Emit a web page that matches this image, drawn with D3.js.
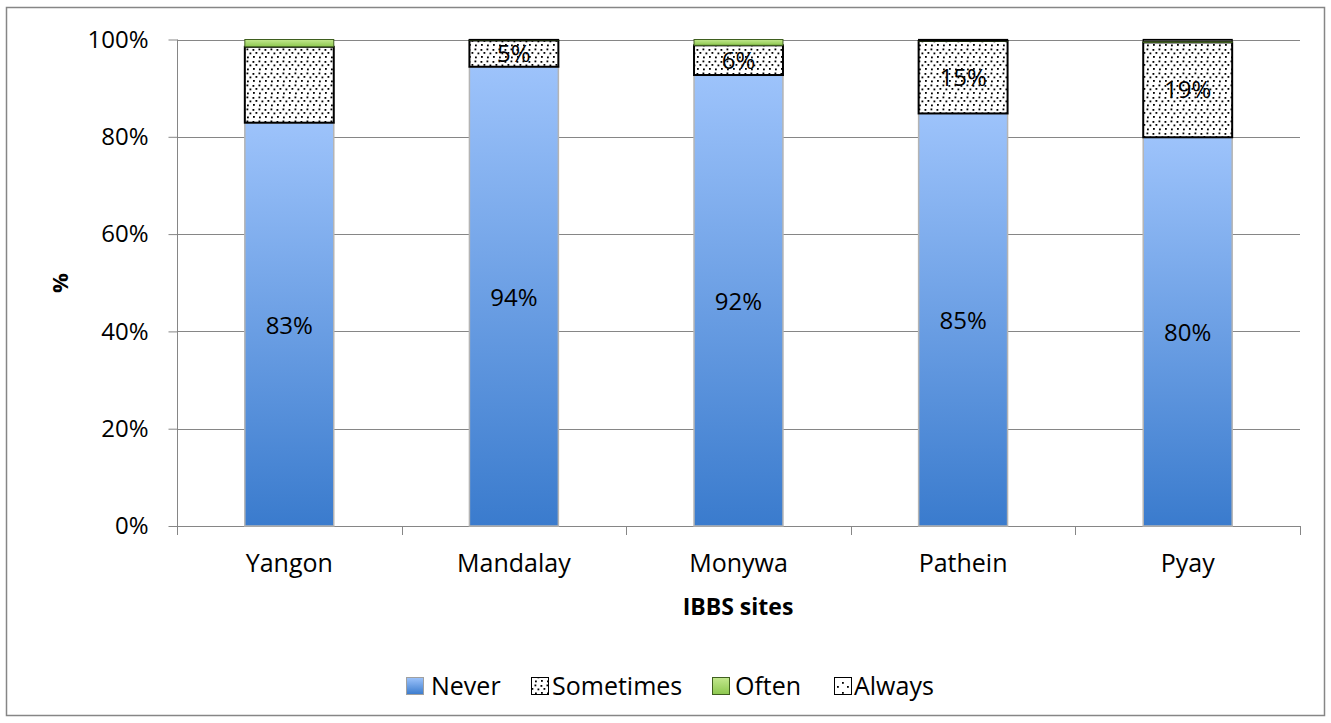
<!DOCTYPE html>
<html>
<head>
<meta charset="utf-8">
<script src="https://cdn.jsdelivr.net/npm/d3@7"></script>
<style>
  html, body { margin: 0; padding: 0; background: #fff; }
  svg { display: block; font-family: "Open Sans", Lato, sans-serif; }
</style>
</head>
<body>
<svg id="chart" width="1331" height="723"></svg>
<script>
// Share of respondents per IBBS site, by frequency
const sites = ["Yangon", "Mandalay", "Monywa", "Pathein", "Pyay"];
const series = ["Never", "Sometimes", "Often", "Always"];
const never = [82.9, 94.4, 92.7, 84.8, 79.9];
const sometimes = [15.6, 5.4, 6.1, 14.9, 19.5];
const often = [1.5, 0.1, 1.2, 0.1, 0.3];
const always = [0.0, 0.1, 0.0, 0.2, 0.3];
const neverLabels = ["83%", "94%", "92%", "85%", "80%"];
const sometimesLabels = ["", "5%", "6%", "15%", "19%"];
const yTicks = [0, 20, 40, 60, 80, 100];

const svg = d3.select("#chart");
const plot = { left: 177, right: 1300, top: 39.5, bottom: 526 };
const FS = 24;

const defs = svg.append("defs");

// Gradient for the "Never" bars (light at top, deeper blue at bottom)
const gNever = defs.append("linearGradient").attr("id", "gradNever")
  .attr("x1", 0).attr("y1", 0).attr("x2", 0).attr("y2", 1);
gNever.append("stop").attr("offset", "0%").attr("stop-color", "#9DC3FB");
gNever.append("stop").attr("offset", "100%").attr("stop-color", "#3A7BCD");

const gOften = defs.append("linearGradient").attr("id", "gradOften")
  .attr("x1", 0).attr("y1", 0).attr("x2", 0).attr("y2", 1);
gOften.append("stop").attr("offset", "0%").attr("stop-color", "#C3E88E");
gOften.append("stop").attr("offset", "100%").attr("stop-color", "#8CC74E");

// Confetti for "Sometimes"
const pS = defs.append("pattern").attr("id", "patSometimes")
  .attr("width", 12).attr("height", 12).attr("patternUnits", "userSpaceOnUse");
pS.append("rect").attr("width", 12).attr("height", 12).attr("fill", "#fff");
[[0.5, 1], [6.5, 0.5], [3.5, 4], [9.5, 4.5], [1, 8], [7, 8.5]].forEach(([x, y]) =>
  pS.append("rect").attr("x", x).attr("y", y).attr("width", 1.8).attr("height", 1.8).attr("fill", "#000"));

// Sparse dots for "Always"
const pA = defs.append("pattern").attr("id", "patAlways")
  .attr("width", 10).attr("height", 10).attr("patternUnits", "userSpaceOnUse");
pA.append("rect").attr("width", 10).attr("height", 10).attr("fill", "#fff");
[[2, 2], [7, 6]].forEach(([x, y]) =>
  pA.append("rect").attr("x", x).attr("y", y).attr("width", 1.8).attr("height", 1.8).attr("fill", "#000"));

// Outer frame
svg.append("rect").attr("x", 6.5).attr("y", 7.5).attr("width", 1318).attr("height", 708)
  .attr("fill", "#fff").attr("stroke", "#868686").attr("stroke-width", 1.5);

const x = d3.scaleBand().domain(sites).range([plot.left, plot.right])
  .paddingInner(0.604).paddingOuter(0.302);
const y = d3.scaleLinear().domain([0, 100]).range([plot.bottom, plot.top]);

// Gridlines
svg.append("g").selectAll("line").data(yTicks.filter(t => t > 0)).join("line")
  .attr("x1", plot.left).attr("x2", plot.right)
  .attr("y1", d => Math.round(y(d)) + 0.5).attr("y2", d => Math.round(y(d)) + 0.5)
  .attr("stroke", "#868686").attr("stroke-width", 1);

// Y axis
const yAxis = svg.append("g").attr("transform", `translate(${plot.left + 0.5},0)`)
  .call(d3.axisLeft(y).tickValues(yTicks).tickFormat(d => d + "%").tickSize(9).tickPadding(20));
yAxis.select(".domain").attr("stroke", "#868686").attr("d", `M0,${plot.top}V${plot.bottom + 9}`);
yAxis.selectAll(".tick line").attr("stroke", "#868686");
yAxis.selectAll(".tick text").attr("font-size", FS).attr("fill", "#000")
  .attr("font-family", "'Open Sans', sans-serif");

// X axis with boundary ticks between categories
const xAxisG = svg.append("g");
xAxisG.append("line").attr("x1", plot.left).attr("x2", plot.right)
  .attr("y1", plot.bottom + 0.5).attr("y2", plot.bottom + 0.5).attr("stroke", "#868686");
const step = x.step();
const bounds = d3.range(sites.length + 1).map(i => plot.left + i * step);
xAxisG.selectAll("line.b").data(bounds).join("line").attr("class", "b")
  .attr("x1", d => Math.round(d) + 0.5).attr("x2", d => Math.round(d) + 0.5)
  .attr("y1", plot.bottom).attr("y2", plot.bottom + 9).attr("stroke", "#868686");
xAxisG.selectAll("text").data(sites).join("text")
  .attr("x", d => x(d) + x.bandwidth() / 2).attr("y", 572)
  .attr("text-anchor", "middle").attr("font-size", 25).text(d => d);

// Stacked bars
const rows = sites.map((s, i) => ({ site: s, Never: never[i], Sometimes: sometimes[i], Often: often[i], Always: always[i] }));
const stacked = d3.stack().keys(series)(rows);
const fills = { Never: "url(#gradNever)", Sometimes: "url(#patSometimes)", Often: "url(#gradOften)", Always: "url(#patAlways)" };
const strokes = { Never: "#B4B4B4", Sometimes: "#000", Often: "#3F5F1F", Always: "#000" };
const widths = { Never: 1.5, Sometimes: 2, Often: 1, Always: 1.2 };

stacked.forEach(layer => {
  svg.append("g").selectAll("rect").data(layer.filter(d => d[1] - d[0] > 0)).join("rect")
    .attr("x", d => x(d.data.site)).attr("width", x.bandwidth())
    .attr("y", d => y(d[1])).attr("height", d => y(d[0]) - y(d[1]))
    .attr("fill", fills[layer.key]).attr("stroke", strokes[layer.key])
    .attr("stroke-width", widths[layer.key]);
});

// Value labels
svg.append("g").selectAll("text").data(rows).join("text")
  .attr("x", d => x(d.site) + x.bandwidth() / 2)
  .attr("y", d => y(d.Never / 2)).attr("dy", "0.4em")
  .attr("text-anchor", "middle").attr("font-size", FS).text((d, i) => neverLabels[i]);
svg.append("g").selectAll("text").data(rows).join("text")
  .attr("x", d => x(d.site) + x.bandwidth() / 2)
  .attr("y", d => y(d.Never + d.Sometimes / 2)).attr("dy", "0.36em")
  .attr("text-anchor", "middle").attr("font-size", FS).text((d, i) => sometimesLabels[i]);

// Axis titles
svg.append("text").attr("transform", "translate(68,283) rotate(-90)")
  .attr("text-anchor", "middle").attr("font-size", 22).attr("font-weight", "bold").text("%");
svg.append("text").attr("x", 738).attr("y", 615)
  .attr("text-anchor", "middle").attr("font-size", 23).attr("font-weight", "bold").text("IBBS sites");

// Legend
const legendItems = [
  { key: "Never", x: 406, tx: 431 },
  { key: "Sometimes", x: 531, tx: 552 },
  { key: "Often", x: 712, tx: 735 },
  { key: "Always", x: 834, tx: 854 }
];
const lg = svg.append("g");
legendItems.forEach(it => {
  lg.append("rect").attr("x", it.x + 0.5).attr("y", 677.5).attr("width", 17).attr("height", 17)
    .attr("fill", fills[it.key]).attr("stroke", it.key === "Never" ? "#A0A0A0" : strokes[it.key])
    .attr("stroke-width", 1);
  lg.append("text").attr("x", it.tx).attr("y", 695).attr("font-size", 25).text(it.key);
});
</script>
</body>
</html>
